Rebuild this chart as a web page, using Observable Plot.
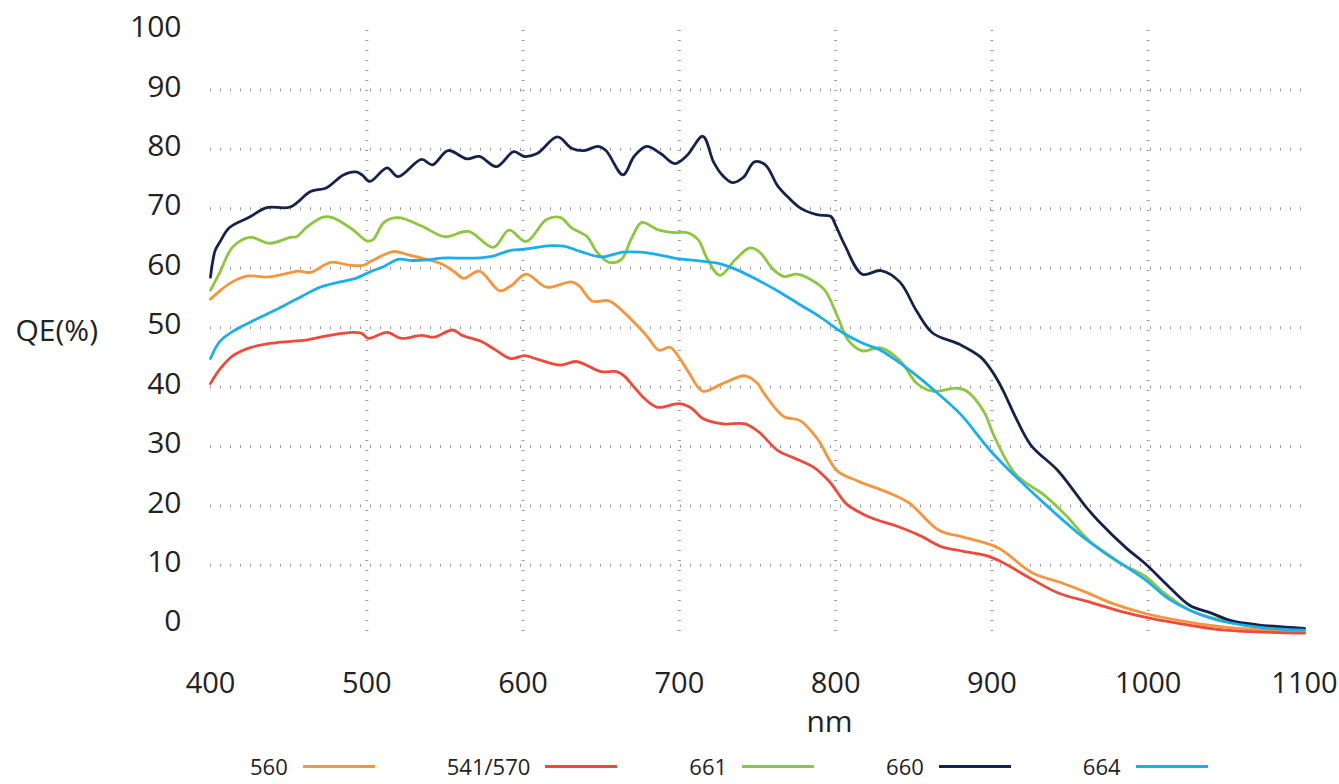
<!DOCTYPE html>
<html>
<head>
<meta charset="utf-8">
<script src="https://cdn.jsdelivr.net/npm/d3@7"></script>
<script src="https://cdn.jsdelivr.net/npm/@observablehq/plot@0.6"></script>
<style>
  body { margin: 0; background: #fff; font-family: "Open Sans", sans-serif; }
  #chart svg { display: block; }
  #legend { display: flex; gap: 72px; padding-left: 250px; margin-top: 5px; height: 32px; align-items: center; }
  .item { display: flex; align-items: center; gap: 15px; font-size: 22px; color: #222; }
  .swatch { width: 72px; height: 3px; }
</style>
</head>
<body>
<div id="chart"></div>
<div id="legend"></div>
<script>
// ---- data ----
const seriesNames  = ["560", "541/570", "661", "660", "664"];
const seriesColors = ["#F7953F", "#EE4A3C", "#8DC63F", "#14234B", "#1CAEEA"];

const nm560 = [400,406,414,424,436,447,456,464,477,489,498,503,517,526,535,548,556,562,572,585,592,602,615,631,636,644,655,664,675,680,687,694,699,705,715,727,742,750,754,767,777,788,801,814,834,847,866,881,894,905,926,943,960,977,998,1027,1049,1100];
const qe560 = [54.8,56.2,57.7,58.7,58.5,59,59.5,59.3,61,60.5,60.5,61.2,62.8,62.3,61.7,60.7,59.4,58.3,59.5,56.2,57,59,56.8,57.7,57,54.5,54.5,52.7,49.8,48.3,46.2,46.7,45.3,42.9,39.3,40.5,41.9,40.6,39,35,34.4,31.4,25.9,24.2,22.2,20.5,15.9,14.8,13.9,12.8,8.7,7.2,5.5,3.6,1.9,0.4,-0.4,-1.3];

const nm541 = [400,406,414,425,440,452,463,476,491,497,501,513,522,535,543,555,561,573,582,592,601,609,624,634,650,660,665,671,678,686,700,708,715,728,742,751,763,773,786,796,807,817,828,838,854,868,881,897,906,926,942,964,985,1001,1027,1049,1100];
const qe541 = [40.6,43,45.2,46.6,47.4,47.7,48,48.7,49.2,49,48.2,49.2,48.2,48.7,48.4,49.6,48.7,47.7,46.3,44.8,45.3,44.7,43.7,44.3,42.6,42.6,41.8,40,38,36.6,37.2,36.4,34.7,33.8,33.8,32.4,29.3,28.1,26.5,24.1,20.3,18.7,17.5,16.7,15,13.1,12.4,11.6,10.6,7.6,5.4,3.7,2.1,1.1,-0.1,-0.9,-1.4];

const nm661 = [400,406,414,425,438,451,455,462,472,478,491,500,504,511,520,535,550,565,581,591,602,615,624,631,641,647,655,663,669,676,686,697,705,712,718,726,736,745,751,760,767,775,784,793,801,808,817,829,841,852,862,878,884,895,901,915,934,947,962,981,998,1010,1027,1049,1100];
const qe661 = [56.3,59.3,63.5,65.2,64.2,65.2,65.3,67,68.6,68.5,66.5,64.6,64.8,67.7,68.5,67.1,65.3,66.2,63.5,66.4,64.5,68.2,68.5,66.8,65.3,62.8,61,61.5,64.8,67.7,66.5,66,66,64.8,61.5,58.8,61.5,63.4,62.8,59.8,58.6,59,58.1,56.3,52,47.9,46.1,46.6,44.5,40.6,39.3,39.8,39.3,35.8,32,25.4,21.7,18.5,14.2,10.5,8.2,5.4,2.4,0.7,-1];

const nm660 = [400,403,406,412,425,436,451,464,474,485,493,497,502,513,520,535,542,552,564,572,583,594,601,609,622,631,639,648,653,664,671,679,688,697,705,715,722,728,734,741,748,755,763,769,777,788,797,800,806,817,829,841,852,862,880,893,901,907,915,925,942,960,968,986,998,1014,1027,1040,1053,1070,1100];
const qe660 = [58.5,63,64.4,66.8,68.6,70.2,70.3,72.9,73.5,75.7,76.2,75.7,74.6,76.9,75.4,78.3,77.4,79.8,78.4,78.8,77.1,79.6,78.8,79.3,82.1,80.2,79.8,80.5,79.8,75.7,78.8,80.5,79.3,77.6,79,82.2,77.8,75.5,74.4,75.3,77.9,77.4,73.8,72.1,70.2,69,68.7,67.2,63.8,59,59.6,57.7,52.7,49.1,47.1,45,42.3,39.5,35,30.2,26,19.9,17.5,12.9,10.3,6.2,3.2,2,0.7,0,-0.6];

const nm664 = [400,406,415,426,447,458,470,483,493,503,511,520,529,539,548,569,580,592,601,618,626,637,650,664,675,686,699,714,725,738,751,764,777,790,803,817,828,836,850,862,880,900,934,960,977,998,1014,1040,1070,1100];
const qe664 = [44.8,47.7,49.5,51,53.7,55.2,56.8,57.7,58.3,59.5,60.3,61.5,61.3,61.4,61.7,61.7,62,63,63.2,63.8,63.7,62.8,61.9,62.7,62.7,62.3,61.6,61.2,60.8,59.6,57.9,56,53.9,51.8,49.4,47.4,46.3,45,42.3,39.7,35.4,29,20.3,14.4,11.3,7.6,4.2,1.1,-0.4,-0.9];

const xTicks = [400, 500, 600, 700, 800, 900, 1000, 1100];
const yTicks = [0, 10, 20, 30, 40, 50, 60, 70, 80, 90, 100];
const xGrid = [500, 600, 700, 800, 900, 1000];
const yGrid = [10, 20, 30, 40, 50, 60, 70, 80, 90];
const xTitle = "nm";
const yTitle = "QE(%)";

// ---- build table for Plot ----
const seriesData = [[nm560, qe560], [nm541, qe541], [nm661, qe661], [nm660, qe660], [nm664, qe664]];
const rows = [];
seriesData.forEach(([xs, ys], i) => xs.forEach((x, j) => rows.push({series: seriesNames[i], nm: x, qe: ys[j]})));

const gridStyle = {stroke: "#9c9c9c", strokeOpacity: 1, strokeWidth: 3, strokeDasharray: "1,9"};

const chart = Plot.plot({
  width: 1339,
  height: 745,
  marginTop: 30,
  marginBottom: 112.4,
  marginLeft: 210,
  marginRight: 35,
  style: {fontFamily: "'Open Sans', sans-serif", background: "#fff", color: "#222"},
  x: {domain: [400, 1100]},
  y: {domain: [-1.4, 100]},
  color: {domain: seriesNames, range: seriesColors},
  marks: [
    Plot.gridY({ticks: yGrid, ...gridStyle}),
    Plot.gridX({ticks: xGrid, ...gridStyle}),
    Plot.axisY({ticks: yTicks, tickFormat: d => String(d), tickSize: 0, tickPadding: 29, fontSize: 30, label: null, dy: -3, color: "#222"}),
    Plot.axisX({ticks: xTicks, tickFormat: d => String(d), tickSize: 0, tickPadding: 39, fontSize: 29, label: null, color: "#222", textOverflow: "clip"}),
    Plot.text([yTitle], {text: d => d, frameAnchor: "left", dx: -195, textAnchor: "start", fontSize: 30, fill: "#222"}),
    Plot.text([xTitle], {text: d => d, frameAnchor: "bottom", dx: 72, dy: 99, fontSize: 30, fill: "#222"}),
    Plot.line(rows, {x: "nm", y: "qe", z: "series", stroke: "series", curve: "catmull-rom", strokeWidth: 2.8})
  ]
});
document.getElementById("chart").appendChild(chart);

// ---- legend ----
const legend = document.getElementById("legend");
seriesNames.forEach((name, i) => {
  const item = document.createElement("div");
  item.className = "item";
  const label = document.createElement("span");
  label.textContent = name;
  const sw = document.createElement("span");
  sw.className = "swatch";
  sw.style.background = seriesColors[i];
  item.appendChild(label);
  item.appendChild(sw);
  legend.appendChild(item);
});
</script>
</body>
</html>
